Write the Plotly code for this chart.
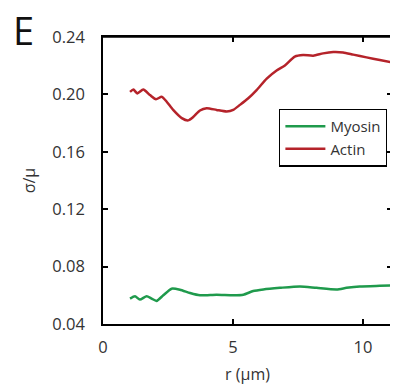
import plotly.graph_objects as go

actin_r = [1.04, 1.17, 1.32, 1.55, 1.81, 2.04, 2.26, 2.45, 2.70, 3.03, 3.28, 3.47, 3.73, 3.99, 4.37, 4.76, 5.01,
           5.27, 5.59, 5.91, 6.30, 6.68, 7.00, 7.38, 7.70, 8.09, 8.47, 8.86, 9.24, 9.63, 10.14, 10.65, 11.1]
actin_v = [0.2018, 0.2034, 0.2007, 0.2034, 0.1995, 0.1966, 0.1984, 0.1949, 0.1892, 0.1835, 0.1819, 0.1842,
           0.1888, 0.1904, 0.1892, 0.1881, 0.1892, 0.1927, 0.1973, 0.2030, 0.2110, 0.2167, 0.2201, 0.2263,
           0.2274, 0.2270, 0.2286, 0.2295, 0.2292, 0.2277, 0.2258, 0.2240, 0.2224]

myosin_r = [1.04, 1.23, 1.42, 1.68, 1.87, 2.06, 2.32, 2.64, 2.96, 3.35, 3.73, 4.37, 5.01, 5.40, 5.78, 6.17,
            6.81, 7.58, 8.22, 8.99, 9.37, 9.88, 10.65, 11.1]
myosin_v = [0.0577, 0.0593, 0.0570, 0.0593, 0.0577, 0.0561, 0.0600, 0.0646, 0.0639, 0.0616, 0.0600, 0.0604,
            0.0600, 0.0604, 0.0630, 0.0641, 0.0652, 0.0662, 0.0652, 0.0641, 0.0652, 0.0662, 0.0666, 0.0668]

x_ticks = [0, 5, 10]
y_ticks = [0.04, 0.08, 0.12, 0.16, 0.20, 0.24]
y_labels = ["0.04", "0.08", "0.12", "0.16", "0.20", "0.24"]

font = "Open Sans, Lato, sans-serif"

fig = go.Figure()
fig.add_trace(go.Scatter(x=myosin_r, y=myosin_v, mode="lines", name="Myosin",
                         line=dict(color="#1f9a4c", width=2.5, shape="spline", smoothing=0.6)))
fig.add_trace(go.Scatter(x=actin_r, y=actin_v, mode="lines", name="Actin",
                         line=dict(color="#b5232a", width=2.5, shape="spline", smoothing=0.6)))

axis_common = dict(showline=True, linecolor="black", linewidth=1.5, mirror="ticks", ticks="inside",
                   ticklen=5, tickwidth=1.5, tickcolor="black", showgrid=False, zeroline=False, automargin=False,
                   tickfont=dict(size=16.5, color="#333", family=font))

# page body has an 8px default margin, so the figure is drawn offset by 8px
fig.update_layout(
    width=390, height=384,
    margin=dict(l=95, r=6, t=29, b=68),
    paper_bgcolor="white", plot_bgcolor="white",
    showlegend=True,
    legend=dict(x=0.983, y=0.75, xanchor="right", yanchor="top",
                bordercolor="black", borderwidth=1.3, bgcolor="white",
                font=dict(size=15, color="#333", family=font),
                tracegroupgap=0, itemwidth=40),
    xaxis=dict(range=[0, 11.12], tickvals=x_ticks, ticklabelstandoff=7,
               title=dict(text="r (μm)", font=dict(size=16, color="#333", family=font), standoff=12),
               **axis_common),
    yaxis=dict(range=[0.04, 0.24], tickvals=y_ticks, ticktext=y_labels, ticklabelstandoff=13,
               title=dict(text="σ/μ", font=dict(size=16, color="#333", family=font), standoff=13),
               **axis_common),
    shapes=[dict(type="line", xref="paper", yref="paper", x0=0, x1=1, y0=1, y1=1,
                 line=dict(color="black", width=1.5), layer="above"),
            dict(type="line", xref="paper", yref="paper", x0=1, x1=1, y0=0, y1=1,
                 line=dict(color="black", width=1.5), layer="above")],
    annotations=[dict(text="E", x=(24 - 103) / 289, y=1 + (37 - 30) / 288, xref="paper", yref="paper",
                      xanchor="center", yanchor="middle", showarrow=False,
                      font=dict(size=38, color="#111", family=font))],
)

fig.write_html("out.html")
